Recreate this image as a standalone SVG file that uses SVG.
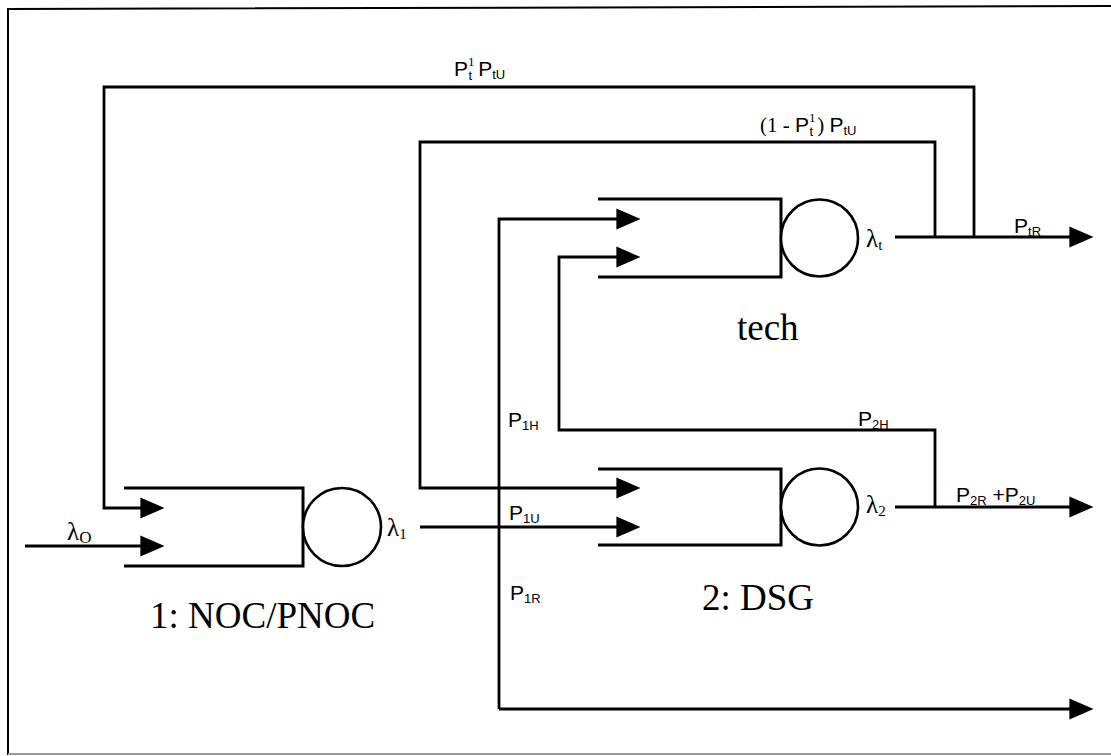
<svg xmlns="http://www.w3.org/2000/svg" width="1111" height="756" viewBox="0 0 1111 756">
<style>
.ln{fill:none;stroke:#000;stroke-width:2.8}
.q{fill:none;stroke:#000;stroke-width:3}
.c{fill:#fff;stroke:#000;stroke-width:2.6}
.pl{font-family:"Liberation Sans",Arial,sans-serif;font-size:21px;fill:#000}
.sb{font-size:13px}
.lam{font-family:"Liberation Serif","Times New Roman",serif;font-size:25px;fill:#000}
.big{font-family:"Liberation Serif","Times New Roman",serif;font-size:37px;fill:#000}
.ser{font-family:"Liberation Serif","Times New Roman",serif}
</style>
<defs>
<marker id="ah" markerUnits="userSpaceOnUse" markerWidth="24" markerHeight="22" viewBox="0 0 23 20" refX="15" refY="10" orient="auto">
<path d="M0,0 L23,10 L0,20 Z" fill="#000"/>
</marker>
</defs>
<rect width="1111" height="756" fill="#fff"/>
<path d="M8,755 V9 L1111,6" fill="none" stroke="#000" stroke-width="2"/>
<path d="M8,754 H1111" fill="none" stroke="#999" stroke-width="2"/>

<g id="connectors">
<path class="ln" d="M974,237 V87 H104 V508 H156" marker-end="url(#ah)"/>
<path class="ln" d="M25,546 H156" marker-end="url(#ah)"/>
<path class="ln" d="M935,237 V142 H420 V488 H632" marker-end="url(#ah)"/>
<path class="ln" d="M895,237 H1085" marker-end="url(#ah)"/>
<path class="ln" d="M420,527 H632" marker-end="url(#ah)"/>
<path class="ln" d="M499,709 V219 H632" marker-end="url(#ah)"/>
<path class="ln" d="M499,709 H1085" marker-end="url(#ah)"/>
<path class="ln" d="M935,507 V430 H559 V257 H632" marker-end="url(#ah)"/>
<path class="ln" d="M895,507 H1085" marker-end="url(#ah)"/>
</g>

<g id="node-noc">
<path class="q" d="M124,488 H303 V566 H124"/>
<circle class="c" cx="342" cy="527" r="39"/>
<text class="big" x="150" y="628">1: NOC/PNOC</text>
</g>
<g id="node-tech">
<path class="q" d="M598,199 H781 V277 H598"/>
<circle class="c" cx="819.5" cy="238" r="38.5"/>
<text class="big" x="737" y="340" font-size="35">tech</text>
</g>
<g id="node-dsg">
<path class="q" d="M598,469 H781 V545 H598"/>
<circle class="c" cx="819.5" cy="507" r="38.5"/>
<text class="big" x="702" y="610">2: DSG</text>
</g>

<g id="labels">
<text class="pl" x="454" y="76">P<tspan class="sb ser" dy="-10">1</tspan><tspan class="sb" dx="-6" dy="14">t</tspan><tspan dy="-4" dx="6">P</tspan><tspan class="sb" dy="3">tU</tspan></text>
<text class="pl" x="760" y="132"><tspan class="ser">(1 - </tspan>P<tspan class="sb ser" dy="-10">1</tspan><tspan class="sb" dx="-6" dy="14">t</tspan><tspan class="ser" dy="-4" dx="4">) </tspan>P<tspan class="sb" dy="3">tU</tspan></text>
<text class="pl" x="1014" y="233">P<tspan class="sb" dy="3">tR</tspan></text>
<text class="pl" x="508" y="427">P<tspan class="sb" dy="3">1H</tspan></text>
<text class="pl" x="858" y="426">P<tspan class="sb" dy="3">2H</tspan></text>
<text class="pl" x="509" y="520">P<tspan class="sb" dy="3">1U</tspan></text>
<text class="pl" x="956" y="502">P<tspan class="sb" dy="3">2R</tspan><tspan dy="-3"> +P</tspan><tspan class="sb" dy="3">2U</tspan></text>
<text class="pl" x="510" y="600">P<tspan class="sb" dy="3">1R</tspan></text>
<text class="lam" x="67" y="540">λ<tspan font-size="17" dy="3">O</tspan></text>
<text class="lam" x="387" y="536">λ<tspan font-size="15" dy="3">1</tspan></text>
<text class="lam" x="866" y="247">λ<tspan font-size="15" dy="3">t</tspan></text>
<text class="lam" x="866" y="513">λ<tspan font-size="15" dy="3">2</tspan></text>
</g>
</svg>
